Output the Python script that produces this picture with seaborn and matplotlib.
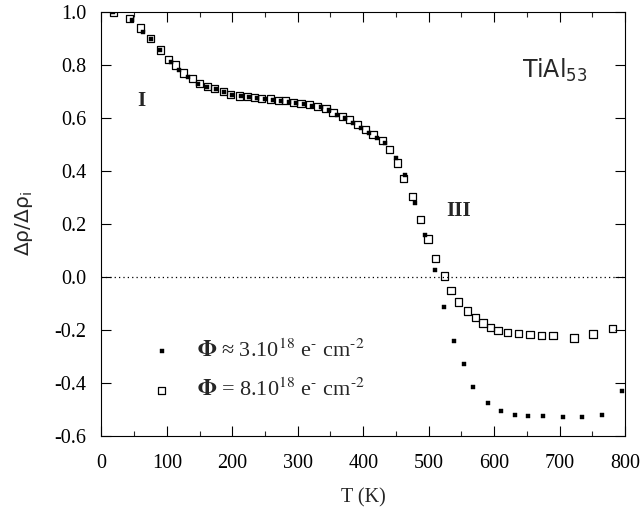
import matplotlib
matplotlib.use("Agg")
import matplotlib.pyplot as plt
import seaborn as sns
import pandas as pd

# Series: Phi = 8.10^18 (open squares)
T_open = [18, 43, 60, 75, 90, 102, 113, 125, 139, 150, 162, 173, 186, 197, 211, 223, 234, 245,
          258, 270, 281, 293, 305, 318, 330, 343, 354, 368, 379, 391, 403, 415, 429, 440, 452,
          462, 475, 487, 499, 511, 524, 534, 546, 559, 571, 583, 595, 606, 620, 637, 655, 673,
          690, 722, 751, 781]
y_open = [1.0, 0.975, 0.94, 0.90, 0.857, 0.82, 0.80, 0.77, 0.75, 0.73, 0.718, 0.71, 0.70, 0.69,
          0.683, 0.68, 0.677, 0.673, 0.672, 0.667, 0.665, 0.658, 0.655, 0.65, 0.643, 0.636, 0.62,
          0.607, 0.594, 0.575, 0.556, 0.537, 0.515, 0.48, 0.43, 0.373, 0.303, 0.218, 0.143, 0.07,
          0.004, -0.05, -0.094, -0.128, -0.154, -0.174, -0.19, -0.203, -0.21, -0.214, -0.218,
          -0.222, -0.222, -0.23, -0.215, -0.195]

# Series: Phi ~ 3.10^18 (filled squares)
T_fill = [18, 46, 64, 75, 90, 107, 119, 133, 148, 162, 175, 188, 200, 213, 226, 238, 250, 262,
          274, 286, 298, 310, 322, 335, 347, 360, 372, 384, 397, 409, 421, 434, 450, 464, 479,
          494, 510, 524, 539, 554, 568, 590, 611, 632, 652, 675, 705, 735, 765, 795]
y_fill = [1.0, 0.97, 0.925, 0.90, 0.857, 0.81, 0.78, 0.755, 0.73, 0.718, 0.708, 0.697, 0.688,
          0.683, 0.678, 0.675, 0.672, 0.668, 0.665, 0.662, 0.657, 0.652, 0.647, 0.64, 0.63, 0.612,
          0.60, 0.58, 0.563, 0.545, 0.525, 0.505, 0.45, 0.385, 0.28, 0.158, 0.027, -0.115, -0.243,
          -0.33, -0.414, -0.475, -0.505, -0.52, -0.523, -0.525, -0.53, -0.53, -0.52, -0.43]

x_ticks = [0, 100, 200, 300, 400, 500, 600, 700, 800]
y_ticks = [-0.6, -0.4, -0.2, 0.0, 0.2, 0.4, 0.6, 0.8, 1.0]

label_fill = r"$\mathbf{\Phi}$ ≈ 3.10$^{18}$ e$^{\text{-}}$ cm$^{\text{-2}}$"
label_open = r"$\mathbf{\Phi}$ = 8.10$^{18}$ e$^{\text{-}}$ cm$^{\text{-2}}$"

sns.set_style("ticks")
plt.rcParams['font.family'] = ['Liberation Serif', 'DejaVu Serif']
plt.rcParams['mathtext.fontset'] = 'stix'

df_open = pd.DataFrame({"T": T_open, "y": y_open})
df_fill = pd.DataFrame({"T": T_fill, "y": y_fill})

fig = plt.figure(figsize=(6.42, 5.11), dpi=100)
ax = fig.add_axes([0.158, 0.1468, 0.8155, 0.8297])

ax.axhline(0.0, color="black", linestyle=(0, (1, 2.5)), linewidth=0.9, zorder=1)

sns.scatterplot(data=df_fill, x="T", y="y", ax=ax, marker="s", s=9, color="black",
                edgecolor="black", linewidth=0.3, label=label_fill, zorder=3)
sns.scatterplot(data=df_open, x="T", y="y", ax=ax, marker="s", s=27, facecolor="none",
                edgecolor="black", linewidth=0.9, label=label_open, zorder=2)

ax.set_xlim(0, 800)
ax.set_ylim(-0.6, 1.0)
ax.set_xticks(x_ticks)
ax.set_xticklabels([str(v) for v in x_ticks])
ax.set_yticks(y_ticks)
ax.set_yticklabels([f"{v:.1f}" for v in y_ticks])
ax.set_xticks(list(range(50, 800, 100)), minor=True)

ax.tick_params(axis="both", which="major", direction="in", length=7, width=0.8,
               top=True, right=True, labelsize=14.5, colors="black")
ax.tick_params(axis="x", which="major", pad=13)
ax.tick_params(axis="y", which="major", pad=11)
ax.tick_params(axis="x", which="minor", direction="in", length=3.5, width=0.8, top=True)
for sp in ax.spines.values():
    sp.set_linewidth(0.8)
    sp.set_color("black")

ax.set_xlabel("T (K)", fontsize=14.5, labelpad=11)
ax.set_ylabel(r"Δρ/Δρ$_{\mathregular{i}}$", fontsize=14.5, family=["DejaVu Sans"],
              math_fontfamily="dejavusans", labelpad=14)

ax.text(0.076, 0.79, "I", transform=ax.transAxes, fontsize=15, fontweight="bold",
        ha="center", va="center")
ax.text(0.683, 0.53, "III", transform=ax.transAxes, fontsize=15, fontweight="bold",
        ha="center", va="center")
ax.text(0.928, 0.862, r"TiAl$_{53}$", transform=ax.transAxes, fontsize=17,
        family=["DejaVu Sans"], math_fontfamily="dejavusans", ha="right", va="center")

leg = ax.legend(loc="center left", bbox_to_anchor=(0.09, 0.155), frameon=False, fontsize=16,
                handletextpad=1.0, labelspacing=0.75, handlelength=1.2, borderaxespad=0,
                borderpad=0)

fig.savefig("out.png", dpi=100)
